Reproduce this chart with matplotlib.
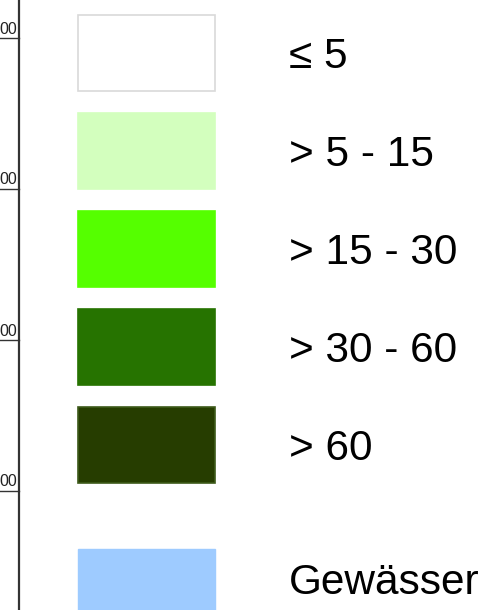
import matplotlib.pyplot as plt
from matplotlib.patches import Rectangle

plt.rcParams['font.family'] = ['Liberation Sans', 'DejaVu Sans']

# legend classes
class_labels = ['≤ 5', '> 5 - 15', '> 15 - 30', '> 30 - 60', '> 60']
class_colors = ['#ffffff', '#d3ffbe', '#55ff00', '#267300', '#263d00']
class_edges = ['#d9d9d9', '#d3ffbe', '#55ff00', '#267300', '#3d5a1a']
water_label = 'Gewässer'
water_color = '#9ecbff'

# partial scale bar on the left edge (only the trailing digits are visible)
scale_labels = ['00', '00', '00', '00']


def draw_legend(output_png_file):
    fig = plt.figure(figsize=(4.89, 6.10), dpi=100)
    ax = fig.add_axes([0, 0, 1, 1])
    ax.set_xlim(0, 489)
    ax.set_ylim(610, 0)
    ax.axis('off')

    # scale bar fragment
    ax.plot([19, 19], [0, 610], color='#333333', lw=1.6)
    for i, lab in enumerate(scale_labels):
        y = 38 + i * 151
        ax.plot([0, 19], [y, y], color='#333333', lw=1.0)
        ax.text(17.5, y - 1.5, lab, ha='right', va='bottom', fontsize=11.5, color='#222222')

    # class boxes
    x0, w, h, step = 78, 137, 76, 98
    for i, (lab, col, ec) in enumerate(zip(class_labels, class_colors, class_edges)):
        top = 15 + i * step
        ax.add_patch(Rectangle((x0, top), w, h, facecolor=col, edgecolor=ec, lw=1.2))
        ax.text(289, top + h / 2 + 4, lab, ha='left', va='center', fontsize=30.5, color='black')

    top = 549
    ax.add_patch(Rectangle((x0, top), w, h, facecolor=water_color, edgecolor=water_color, lw=1.0))
    ax.text(289, top + 34, water_label, ha='left', va='center', fontsize=30.5, color='black')

    fig.savefig(output_png_file, dpi=100)


if __name__ == '__main__':
    draw_legend('out.png')
